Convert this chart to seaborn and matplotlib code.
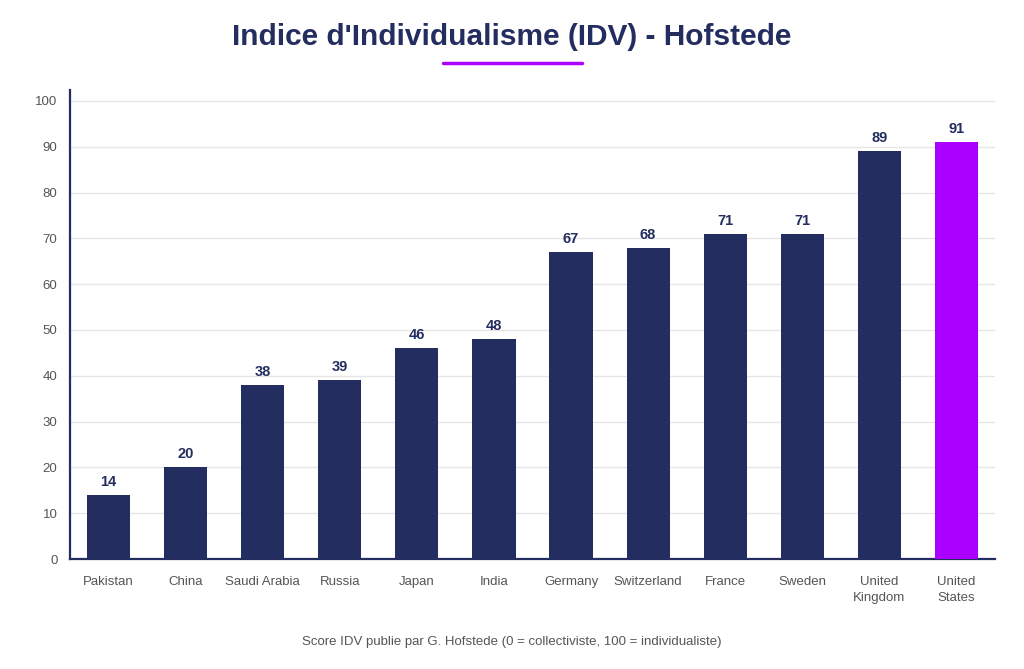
import matplotlib
matplotlib.use("Agg")
import matplotlib.pyplot as plt
import seaborn as sns
import pandas as pd
from matplotlib.lines import Line2D

countries = ["Pakistan", "China", "Saudi Arabia", "Russia", "Japan", "India",
             "Germany", "Switzerland", "France", "Sweden", "United\nKingdom", "United\nStates"]
scores = [14, 20, 38, 39, 46, 48, 67, 68, 71, 71, 89, 91]
highlight = ["United\nStates"]

NAVY = "#232d5f"
PURPLE = "#aa00ff"
GRAY = "#555555"

df = pd.DataFrame({"country": countries, "score": scores})
df["grp"] = ["hi" if c in highlight else "base" for c in countries]

sns.set_theme(style="white")
plt.rcParams["font.family"] = ["Liberation Sans", "DejaVu Sans"]

fig = plt.figure(figsize=(10.24, 6.69), dpi=100)
ax = fig.add_axes([70/1024, 1 - 559/669, (995-70)/1024, (559-90)/669])

sns.barplot(data=df, x="country", y="score", hue="grp",
            palette={"base": NAVY, "hi": PURPLE}, width=0.56,
            legend=False, ax=ax, saturation=1, zorder=3, linewidth=0)

ax.set_xlim(-0.5, len(countries) - 0.5)
ax.set_ylim(0, 102.4)
ax.set_yticks(range(0, 101, 10))
ax.yaxis.grid(True, color="#e6e6e6", linewidth=1, zorder=0)
ax.set_axisbelow(True)
ax.set_xlabel("")
ax.set_ylabel("")

for s in ["top", "right"]:
    ax.spines[s].set_visible(False)
for s in ["left", "bottom"]:
    ax.spines[s].set_color(NAVY)
    ax.spines[s].set_linewidth(1.6)

ax.tick_params(axis="both", length=0, colors=GRAY, labelsize=9.5)
ax.tick_params(axis="x", pad=12.5)
ax.tick_params(axis="y", pad=9)
for lbl in ax.get_xticklabels():
    lbl.set_linespacing(1.45)

for i, v in enumerate(scores):
    ax.text(i, v + 1.3, str(v), ha="center", va="bottom", fontsize=10.5,
            fontweight="bold", color=NAVY)

fig.text(0.5, 1 - 37/669, "Indice d'Individualisme (IDV) - Hofstede",
         ha="center", va="center", fontsize=21.5, fontweight="bold", color=NAVY)
fig.add_artist(Line2D([443/1024, 582/1024], [1 - 63/669, 1 - 63/669],
                      color=PURPLE, linewidth=2.5, transform=fig.transFigure))
fig.text(0.5, 1 - 642/669,
         "Score IDV publie par G. Hofstede (0 = collectiviste, 100 = individualiste)",
         ha="center", va="center", fontsize=9.5, color=GRAY)

fig.savefig("out.png", dpi=100, facecolor="white")
